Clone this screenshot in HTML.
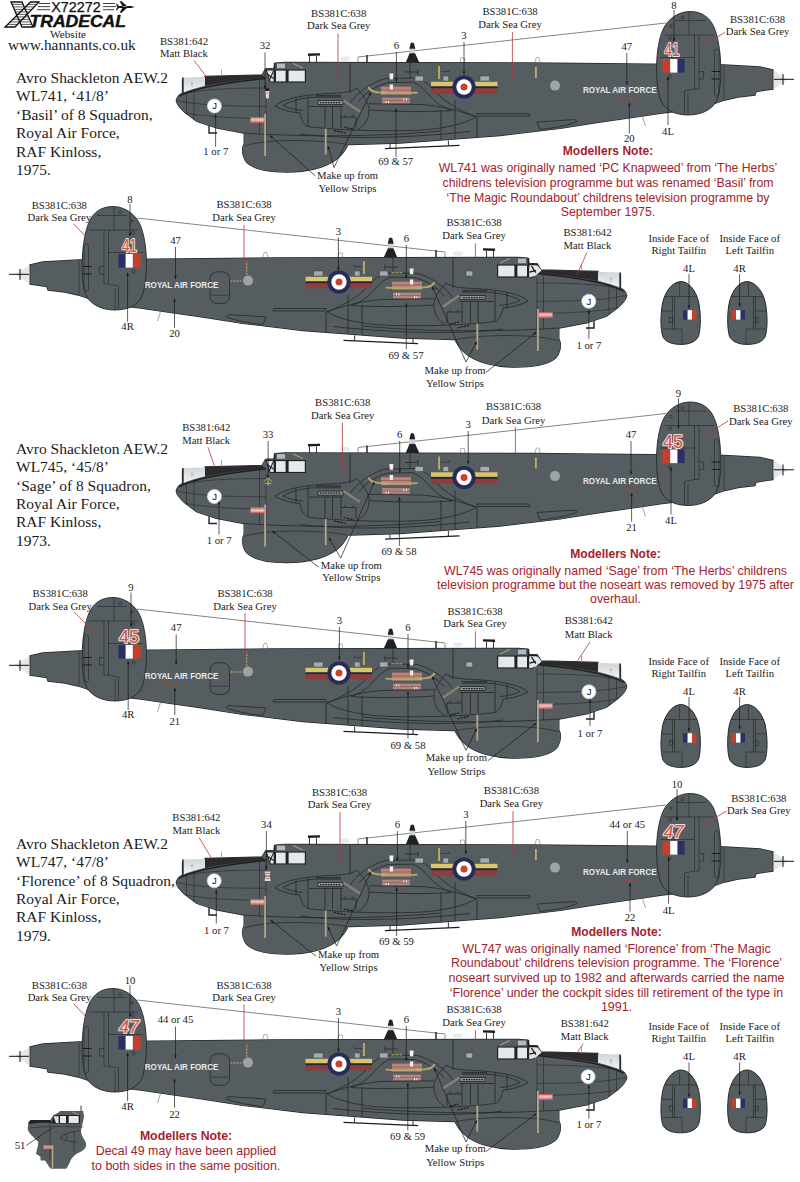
<!DOCTYPE html>
<html><head><meta charset="utf-8"><title>X72272</title>
<style>
html,body{margin:0;padding:0;background:#fff;}
svg{display:block;}
text{font-family:"Liberation Serif",serif;fill:#1a1a1a;}
.s{font-family:"Liberation Sans",sans-serif;}
</style></head><body>
<svg width="800" height="1182" viewBox="0 0 800 1182">
<rect width="800" height="1182" fill="#fff"/>
<defs>
<g id="ac">
  <!-- aerial wire -->
  <path d="M358,57 L666,23" stroke="#333" stroke-width="0.6" fill="none"/>
  <!-- top antennas -->
  <path d="M308,53.6 L320,53.2 L320,55.6 L308,56 Z" fill="#1c1c1c"/>
  <path d="M309.5,56 V62.5 M316.5,56 V62.5" stroke="#222" stroke-width="0.9"/>
  <path d="M358,57 V62.5" stroke="#b8bcc0" stroke-width="1.6"/>
  <path d="M367,55 V62.5" stroke="#1c1c1c" stroke-width="1.4"/>
  <path d="M460.6,62.5 V58 H464.6 V62.5" stroke="#9a9fa3" stroke-width="0.8" fill="none"/>
  <path d="M535,62.5 L536.3,57.5 H539 L540.3,62.5" stroke="#9a9fa3" stroke-width="0.8" fill="none"/>
  <!-- beacon -->
  <path d="M405.5,63 L409.7,53 H415 L419.5,63 Z" fill="#1f2123"/>
  <rect x="409.6" y="48.5" width="5.4" height="4.8" fill="#c9cdd0"/>
  <path d="M409.3,48.8 L410.6,43.6 Q412.3,41.5 414,43.6 L415.3,48.8 Z" fill="#1f2123"/>
  <!-- fuselage + radome : outline pass then fill pass -->
  <g stroke="#202427" stroke-width="1.3" stroke-linejoin="round" fill="#565d60">
    <path id="fus" d="M176.3,100.5 C177,97 179.5,94.5 182.5,93 L182.5,80 L205,78 L205,76.5 L262,75 L265.5,69 L274,68.5 L275,63.2 L285,62.5 L530,63 L650,64.2 L724,65 L760,67 L773,70 L773,89 L756,91.5 L755,95 L738,97 L725,100 L700,108.5 L662,113 L640,116.4 L600,122 L560,128.4 L500,135.5 L450,139.3 L400,143 L350,144.5 L244,133 L215,127.5 L197,121.5 L185,112.5 C180,108 176.5,104 176.3,100.5 Z"/>
    <path id="rad" d="M244.2,131 L244.2,143.5 C242,148 241.5,153 245,160 C249,167 262,171 275,171.7 C287,172.6 303,172 316,168.6 C330,165 340,158 345,150 L348.5,144 L348.5,131 Z"/>
  </g>
  <path d="M176.3,100.5 C177,97 179.5,94.5 182.5,93 L182.5,80 L205,78 L205,76.5 L262,75 L265.5,69 L274,68.5 L275,63.2 L285,62.5 L530,63 L650,64.2 L724,65 L760,67 L773,70 L773,89 L756,91.5 L755,95 L738,97 L725,100 L700,108.5 L662,113 L640,116.4 L600,122 L560,128.4 L500,135.5 L450,139.3 L400,143 L350,144.5 L244,133 L215,127.5 L197,121.5 L185,112.5 C180,108 176.5,104 176.3,100.5 Z" fill="#565d60"/>
  <path d="M244.2,131 L244.2,143.5 C242,148 241.5,153 245,160 C249,167 262,171 275,171.7 C287,172.6 303,172 316,168.6 C330,165 340,158 345,150 L348.5,144 L348.5,131 Z" fill="#565d60"/>
  <ellipse cx="345" cy="58.6" rx="5" ry="2.4" fill="#dfe7ee" opacity="0.8"/>
  <path d="M244.5,146 C262,139 320,139 347,144.5" fill="none" stroke="#23272a" stroke-width="0.7"/>
  <!-- skid under fuselage -->
  <path d="M385,148.6 L459.5,145.4" stroke="#1c1c1c" stroke-width="1.2"/>
  <path d="M390,144 V148.4 M448.4,140.5 V145.8" stroke="#1c1c1c" stroke-width="0.9"/>
  <!-- pitot -->
  <path d="M209,126 V133 H217" stroke="#222" stroke-width="1.4" fill="none"/>
  <!-- tail strut -->
  <path d="M642.5,116.5 L645.5,126" stroke="#7a8084" stroke-width="0.7"/>
  <!-- tail cone -->
  <path d="M773,70 L788,79.3 L773,89 Z" fill="#e4e6e8"/>
  <path d="M773,70 L773,89" stroke="#23272a" stroke-width="0.8"/>
  <path d="M774,79.3 L794,79.3 M783,74 L783,85" stroke="#111" stroke-width="1"/>
  <!-- tailplane stub lines -->
  <path d="M724,65.5 V100" stroke="#23272a" stroke-width="0.6" fill="none"/>
  <!-- fin -->
  <path d="M690,11.5 C680,11.5 671,17 665.5,25 C660,33 657.5,48 656.8,60 C656,75 657.5,92 661,101 C665,110 675,115 688,115 C701,115 711,110 716,102 C720.5,93 721.5,75 720.5,60 C719.5,45 717,33 713,25 C709,17.5 702,11.5 690,11.5 Z" fill="#565d60" stroke="#24282b" stroke-width="0.9"/>
  <g stroke="#23272a" stroke-width="0.6" fill="none">
    <path d="M665,35 H694.5 V89 L684.5,91 V114.5"/>
    <path d="M694.5,35 H699 V89 H694.5"/>
    <path d="M689,12 V35 M676,20.5 H706 M699,35 H714"/>
    <path d="M694.5,57.5 H660"/>
    <path d="M688,93 V114.8"/>
    <path d="M714.5,51 Q714.5,49 716.5,49 Q719,49 719,52 V94 Q719,96 716.8,96 Q714.5,96 714.5,94 Z"/>
    <path d="M699,71.5 H703.5 V79 H699"/>
    <path d="M711.5,71.5 H720 M711.5,79 H719.5" stroke="#111" stroke-width="0.9"/>
    <circle cx="670" cy="38" r="1.5"/>
    <circle cx="671" cy="26" r="1.3"/>
    <circle cx="682.5" cy="17.5" r="1.4"/>
    <circle cx="669.5" cy="76.5" r="1.6"/>
  </g>
  <!-- fin flash -->
  <rect x="662.4" y="59" width="7.8" height="13.6" fill="#c4402c"/>
  <rect x="670.2" y="59" width="7.4" height="13.6" fill="#ffffff"/>
  <rect x="677.6" y="59" width="7" height="13.6" fill="#2a2f66"/>
  <!-- nose glazing -->
  <path d="M182.5,77.4 L205,77 L205,85.8 C196,88 188,90.5 182.5,93 Z" fill="url(#glz)"/>
  <path d="M182.9,77.6 L182.9,93.6" stroke="#1c1e20" stroke-width="1.5"/>
  <path d="M192,82 V87 M190.7,83.5 H193.3" stroke="#8f969b" stroke-width="0.5"/>
  <!-- anti glare -->
  <path d="M205,76.5 L262,75 L266,78 C240,80 220,83 205,86 Z" fill="#2d2a2b"/>
  <path d="M179,96.5 C190,90 215,83.5 266,78.5" fill="none" stroke="#1d1f21" stroke-width="1.4"/>
  <path d="M221.5,69.5 V76.2" stroke="#8d9296" stroke-width="0.8"/>
  <!-- cockpit -->
  <path d="M265.5,69.5 H306 V82.5 H270 Z" fill="#1f2224"/>
  <path d="M267,70.6 L273.6,70.6 L273.6,81.4 L270.6,81.4 Z" fill="#dfe3e6"/>
  <path d="M267,74 L273.6,78.5 M273.6,70.6 L269,81" stroke="#1f2224" stroke-width="1.1"/>
  <rect x="276" y="70.6" width="9.6" height="10.8" fill="#e6e9eb"/>
  <rect x="288.6" y="70.6" width="16.2" height="10.8" fill="#e6e9eb"/>
  <rect x="277" y="63.6" width="8" height="4.6" fill="#b4babe"/>
  <path d="M274.6,63 V69" stroke="#1f2224" stroke-width="1.6"/>
  <path d="M293,63.5 L303,68" stroke="#b3a885" stroke-width="1"/>
  <!-- panel lines on nose -->
  <g stroke="#23272a" stroke-width="0.6" fill="none">
    <path d="M182,94 C200,89.5 230,88 266,88"/>
    <path d="M177,100.5 C200,105.5 230,106.3 266,106.3"/>
    <path d="M186,113 C205,116.5 230,118 266,118.5"/>
    <path d="M186.5,91.5 V113.5 M194,89 V119.5 M259.5,79 V134"/>
    <path d="M266,82.5 V134"/>
  </g>
  <!-- nacelles / wing -->
  <g stroke="#23272a" stroke-width="0.8" fill="none">
    <path d="M275,106 C284,98 305,94.5 335,93.2 C346,92.6 352,91.5 357,88"/>
    <path d="M275,106 C282,110 292,112.5 300,113 C301,119 303,124 308,126.5 C330,129.5 370,131.5 410,130.5 C440,130 465,124 476,116.8"/>
    <path d="M283,105.5 C290,100.5 305,97.5 318,97"/>
    <path d="M283,105.5 C289,108.5 296,110 303,110.5"/>
    <path d="M296,97.5 V112.5 M308,95 V126 M325,106.5 V127.5 M332.5,106.5 V127.5 M341,106.5 V128"/>
    <path d="M309,106.5 H343"/>
    <path d="M341,117 H356 V128.5 M345,117 V114.5 M353,117 V114.5"/>
    <path d="M350,103 C357,93 370,82.5 386,78.4 L416,78 C424,80 430,85 436,92 C444,101 456,109 476,116.8"/>
    <path d="M359,101 C366,92 377,85.5 388,82.6 L413,82.2 C420,85 425,90 430,96 C436,103 444,108 452,110.5"/>
    <path d="M357,88 C364,96 369,103 369,110 C369,120 364,126 358,129.5"/>
    <path d="M476,116.8 C462,111.5 440,105.5 420,104.5 L369,103.8"/>
    <path d="M369,110 C400,112 430,112 452,110.5"/>
    <path d="M300,134 C340,139 400,139 470,131.5"/>
    <path d="M244,133 C300,137 380,137 440,131"/>
    <path d="M441,110 V140 M455,100 V139"/>
    <path d="M410,63 V78 M405,72 H418 M418,69.5 V74.5"/>
    <path d="M477,113.5 H529 L530,116 H478"/>
    <path d="M477,113.5 V137"/>
    <path d="M537,122 L575,119.5 L577,121.5 C570,125 555,128 540,129.5 Z"/>
    <path d="M350,63 V93"/>
  </g>
  <!-- exhaust details -->
  <rect x="316" y="95.4" width="25" height="2.6" fill="#3a3f43"/>
  <path d="M316,95.4 H341" stroke="#15181a" stroke-width="0.8" stroke-dasharray="1.2 0.8"/>
  <rect x="318" y="100.6" width="25" height="4" fill="#8d9296" stroke="#15181a" stroke-width="0.7"/>
  <path d="M320,102.6 H341" stroke="#15181a" stroke-width="1.2" stroke-dasharray="1.6 1"/>
  <path d="M343.5,100.5 L360,111.5" stroke="#8b8170" stroke-width="2.2"/>
  <path d="M334,130.5 L346,133 M344,127 L354,129.5" stroke="#15181a" stroke-width="1.1" stroke-dasharray="2.4 0.8"/>
  <!-- yellow strips -->
  <rect x="264.2" y="114" width="1.8" height="42" fill="#b3a885"/>
  <rect x="324.8" y="128.6" width="1.8" height="26" fill="#b3a885"/>
  <!-- pink placard -->
  <rect x="250.5" y="117" width="14" height="5.6" fill="#e0a39d"/>
  <path d="M250.5,117.5 H264.5 M250.5,122.1 H264.5" stroke="#c9564f" stroke-width="0.9"/>
  <path d="M252,119.8 H263" stroke="#f4d6d3" stroke-width="1.2" stroke-dasharray="1.4 0.6"/>
  <!-- small windows -->
  <g fill="#a4aaae" stroke="#3a3f43" stroke-width="0.5">
    <rect x="415" y="76" width="8.4" height="5"/>
    <rect x="443" y="76" width="5.6" height="5"/>
    <rect x="480" y="76" width="9.4" height="5"/>
  </g>
  <!-- yellow markers -->
  <rect x="438.2" y="66" width="1.8" height="13" fill="#c4ae55"/>
  <path d="M441,71.5 H449 V69.5" stroke="#23272a" stroke-width="0.6" fill="none"/>
  <!-- sqn bars + roundel -->
  <rect x="431" y="81.8" width="66.5" height="4.6" fill="#d9c66a"/>
  <rect x="431" y="86.4" width="66.5" height="2" fill="#26263f"/>
  <rect x="431" y="88.4" width="66.5" height="4.8" fill="#933a3a"/>
  <circle cx="464" cy="87" r="11.6" fill="#272b57"/>
  <circle cx="464" cy="87" r="7.7" fill="#ffffff"/>
  <circle cx="464" cy="87" r="3.5" fill="#c9432b"/>
  <!-- grey disc -->
  <circle cx="555" cy="85.6" r="5" fill="#9ea3a6"/>
  <!-- nacelle art -->
  <rect x="381" y="86.4" width="30" height="8.2" fill="#b8837b"/>
  <rect x="382" y="97.6" width="28" height="5.8" fill="#ad8780"/>
  <path d="M380.5,86.2 H411.5 M380.5,90 H411.5 M381.5,100.6 H410 M381.5,103.6 H410" stroke="#7d4640" stroke-width="0.5"/>
  <path d="M383,91.5 V94 M385.5,91.5 V94 M404,98.4 V100.4 M406.5,98.4 V100.4 M386,101 V103.2 M388.5,101 V103.2" stroke="#fbecea" stroke-width="1"/>
  <path d="M368.4,87 C370,90.5 373,92 378,92.4 C392,93.4 406,93.2 417.5,92.6" stroke="#b5a866" stroke-width="1.9" fill="none"/>
  <path d="M389.4,73.6 L393.4,73.6 L393,79.2 L389.8,79.2 Z" fill="#f0f1f2"/>
  <path d="M389.6,84.4 L393.2,84.4 L392.8,89.6 L390,89.6 Z" fill="#f6ecea"/>
</g>

<g id="sfin">
  <path d="M681,281.6 C674,281.6 666,289 662.8,302 C660.2,315 660.4,330 663,337 C666,342.5 673,344.4 681,344.4 C689,344.4 696,342 698.6,336 C701,328 700.8,312 698.6,302 C695.5,289 688,281.6 681,281.6 Z" fill="#565d60" stroke="#24282b" stroke-width="1"/>
  <g stroke="#23272a" stroke-width="0.6" fill="none">
    <path d="M665,296.5 H674.6 V329 H682 V344"/>
    <path d="M672.6,296.5 V329"/>
    <path d="M679.6,283 V296.5 H674.6 M679.6,296.5 H697"/>
    <path d="M662,311 H672.6 M663,329 H674.6"/>
    <path d="M669.6,317.6 H672.6 V322.4 H669.6 Z"/>
  </g>
  <rect x="683" y="310.2" width="4.6" height="9.4" fill="#2a2f66"/>
  <rect x="687.6" y="310.2" width="4.4" height="9.4" fill="#ffffff"/>
  <rect x="692" y="310.2" width="4.4" height="9.4" fill="#c4402c"/>
</g>
<linearGradient id="glz" x1="0" y1="0" x2="0" y2="1"><stop offset="0" stop-color="#cfd5d9"/><stop offset="1" stop-color="#f2f4f5"/></linearGradient></defs>
<use href="#ac" transform="translate(0,0)"/>
<rect x="535" y="67" width="1.8" height="11" fill="#c4ae55"/>
<use href="#ac" transform="translate(0,390.5)"/>
<rect x="535" y="457.5" width="1.8" height="11" fill="#c4ae55"/>
<use href="#ac" transform="translate(0,782)"/>
<rect x="535" y="849" width="1.8" height="11" fill="#c4ae55"/>
<use href="#ac" transform="translate(803,195) scale(-1,1)"/>
<rect x="210" y="271.8" width="19.5" height="31.6" rx="7" ry="7" fill="none" stroke="#23272a" stroke-width="0.8"/>
<path d="M211,295.2 H228.5" stroke="#23272a" stroke-width="0.6"/>
<rect x="466" y="271" width="6.8" height="5" fill="#a4aaae" stroke="#3a3f43" stroke-width="0.5"/>
<path d="M246.8,275 V261.5 M241.6,281 H230.5" stroke="#c4ae55" stroke-width="1" stroke-dasharray="2.2 1" fill="none"/>
<path d="M391.5,272.8 H402" stroke="#c4ae55" stroke-width="1" stroke-dasharray="3 1" fill="none"/>
<path d="M529.4,265.6 L537.4,265.6 L541.6,270.6 L535.6,275.4 L529.4,277.2 Z" fill="#e3e6e8"/>
<path d="M528.2,264.4 H538 M531.4,265.8 L535.8,272.6 M529.6,272 L536,270.6" stroke="#1f2224" stroke-width="1.3" fill="none"/>
<use href="#ac" transform="translate(803,586) scale(-1,1)"/>
<rect x="210" y="662.8" width="19.5" height="31.6" rx="7" ry="7" fill="none" stroke="#23272a" stroke-width="0.8"/>
<path d="M211,686.2 H228.5" stroke="#23272a" stroke-width="0.6"/>
<rect x="466" y="662" width="6.8" height="5" fill="#a4aaae" stroke="#3a3f43" stroke-width="0.5"/>
<path d="M246.8,666 V652.5 M241.6,672 H230.5" stroke="#c4ae55" stroke-width="1" stroke-dasharray="2.2 1" fill="none"/>
<path d="M391.5,663.8 H402" stroke="#c4ae55" stroke-width="1" stroke-dasharray="3 1" fill="none"/>
<path d="M529.4,656.6 L537.4,656.6 L541.6,661.6 L535.6,666.4 L529.4,668.2 Z" fill="#e3e6e8"/>
<path d="M528.2,655.4 H538 M531.4,656.8 L535.8,663.6 M529.6,663 L536,661.6" stroke="#1f2224" stroke-width="1.3" fill="none"/>
<use href="#ac" transform="translate(803,977) scale(-1,1)"/>
<rect x="210" y="1053.8" width="19.5" height="31.6" rx="7" ry="7" fill="none" stroke="#23272a" stroke-width="0.8"/>
<path d="M211,1077.2 H228.5" stroke="#23272a" stroke-width="0.6"/>
<rect x="466" y="1053" width="6.8" height="5" fill="#a4aaae" stroke="#3a3f43" stroke-width="0.5"/>
<path d="M246.8,1057 V1043.5 M241.6,1063 H230.5" stroke="#c4ae55" stroke-width="1" stroke-dasharray="2.2 1" fill="none"/>
<path d="M391.5,1054.8 H402" stroke="#c4ae55" stroke-width="1" stroke-dasharray="3 1" fill="none"/>
<path d="M529.4,1047.6 L537.4,1047.6 L541.6,1052.6 L535.6,1057.4 L529.4,1059.2 Z" fill="#e3e6e8"/>
<path d="M528.2,1046.4 H538 M531.4,1047.8 L535.8,1054.6 M529.6,1054 L536,1052.6" stroke="#1f2224" stroke-width="1.3" fill="none"/>
<g stroke="#111" stroke-width="0.8"><path d="M39,3.5 H50 M38,6.6 H50 M37,9.7 H50 M103,3.5 H115 M103,6.6 H116 M103,9.7 H114"/></g>
<text x="51.3" y="12.3" font-size="13.9" class="s" style="fill:#111" textLength="49.4" lengthAdjust="spacingAndGlyphs" stroke="#111" stroke-width="0.25">X72272</text>
<path d="M116.4,7 L120,6 L131,6 L134.8,7 L131,8 L120,8 Z M127.5,6.5 L121.6,1.2 L119.6,1.2 L122.6,6.5 Z M127.5,7.5 L121.6,12.8 L119.6,12.8 L122.6,7.5 Z M119.2,6.4 L117,3.8 L116,3.8 L117,6.4 Z M119.2,7.6 L117,10.2 L116,10.2 L117,7.6 Z" fill="#111"/>
<clipPath id="xclip"><path d="M11,2 L22,2 L33,27 L22,27 Z M30.5,2 L39,2 L15,27 L5,27 Z"/></clipPath><path d="M11,2 L22,2 L33,27 L22,27 Z M30.5,2 L39,2 L15,27 L5,27 Z" fill="#fff" stroke="#111" stroke-width="1.3" stroke-linejoin="miter"/><g clip-path="url(#xclip)"><path d="M4,4.4 H40 M4,6.9 H40 M4,9.4 H40 M4,11.9 H40 M4,14.4 H40 M4,16.9 H40 M4,19.4 H40 M4,21.9 H40 M4,24.4 H40" stroke="#111" stroke-width="0.7"/></g>
<text x="29.5" y="26.6" font-size="15.9" class="s" style="fill:#111" font-weight="bold" font-style="italic" textLength="96.5" lengthAdjust="spacingAndGlyphs" stroke="#111" stroke-width="0.4">TRADECAL</text>
<text x="68" y="38" font-size="11.3" text-anchor="middle">Website</text>
<text x="8" y="50" font-size="15.3">www.hannants.co.uk</text>
<text x="16" y="83.0" font-size="15.5">Avro Shackleton AEW.2</text>
<text x="16" y="101.4" font-size="15.5">WL741, ‘41/8’</text>
<text x="16" y="119.8" font-size="15.5">‘Basil’ of 8 Squadron,</text>
<text x="16" y="138.2" font-size="15.5">Royal Air Force,</text>
<text x="16" y="156.6" font-size="15.5">RAF Kinloss,</text>
<text x="16" y="175.0" font-size="15.5">1975.</text>
<text x="583" y="93.2" font-size="9.4" class="s" style="fill:#e6e8ea" font-weight="bold" textLength="73.6" lengthAdjust="spacingAndGlyphs">ROYAL AIR FORCE</text>
<path d="M620,98.3 h7 M629,98.7 h6" stroke="#b9403a" stroke-width="1" opacity="0.75"/>
<circle cx="214.4" cy="106" r="7" fill="#fff" stroke="#c9d6df" stroke-width="0.8"/><text x="214.6" y="109.3" font-size="9.6" text-anchor="middle" class="s" style="fill:#111">J</text>
<text x="672" y="56" font-size="18.5" text-anchor="middle" class="s" style="fill:#cc564a" stroke="#f3ddd8" stroke-width="2.2" paint-order="stroke" stroke-linejoin="round" textLength="15" lengthAdjust="spacingAndGlyphs">41</text>
<text x="184" y="45" font-size="10.7" text-anchor="middle">BS381:642</text>
<text x="184" y="56.7" font-size="10.7" text-anchor="middle">Matt Black</text>
<path d="M194.0,60.5 L206.5,77.0" stroke="#b0393a" stroke-width="0.8" fill="none"/>
<text x="265" y="49" font-size="10.7" text-anchor="middle">32</text>
<path d="M265.0,52.3 L265.0,89.0" stroke="#1a1a1a" stroke-width="0.7" fill="none"/><path d="M265.0,89.0 L263.7,85.8 L266.3,85.8 Z" fill="#1a1a1a"/>
<rect x="265.2" y="88.4" width="4" height="2.4" fill="#1c1c1c"/><path d="M265.4,91 H269.4 L268.8,98 Q267.4,99.6 266,98 Z" fill="#eadbd8"/><path d="M265.6,93 H269.2" stroke="#c98078" stroke-width="1"/>
<text x="338.7" y="16.9" font-size="10.7" text-anchor="middle">BS381C:638</text>
<text x="338.7" y="28.7" font-size="10.7" text-anchor="middle">Dark Sea Grey</text>
<path d="M338.0,33.5 L338.0,82.5" stroke="#b0393a" stroke-width="0.8" fill="none"/>
<text x="396.4" y="49" font-size="10.7" text-anchor="middle">6</text>
<path d="M396.4,52.0 L396.4,82.0" stroke="#1a1a1a" stroke-width="0.7" fill="none"/><path d="M396.4,82.0 L395.1,78.8 L397.7,78.8 Z" fill="#1a1a1a"/>
<text x="215.8" y="154.6" font-size="10.7" text-anchor="middle">1 or 7</text>
<path d="M215.6,146.8 L215.6,114.0" stroke="#1a1a1a" stroke-width="0.7" fill="none"/><path d="M215.6,114.0 L216.9,117.2 L214.3,117.2 Z" fill="#1a1a1a"/>
<text x="395.7" y="165.4" font-size="10.7" text-anchor="middle">69 &amp; 57</text>
<path d="M396.0,157.0 L396.0,108.5" stroke="#1a1a1a" stroke-width="0.7" fill="none"/><path d="M396.0,108.5 L397.3,111.7 L394.7,111.7 Z" fill="#1a1a1a"/>
<text x="347.5" y="178.9" font-size="10.7" text-anchor="middle">Make up from</text>
<text x="347.5" y="191.7" font-size="10.7" text-anchor="middle">Yellow Strips</text>
<path d="M315.4,176.0 L270.0,135.5" stroke="#1a1a1a" stroke-width="0.7" fill="none"/><path d="M270.0,135.5 L273.3,136.7 L271.5,138.6 Z" fill="#1a1a1a"/>
<path d="M334.0,167.5 L328.0,146.0" stroke="#1a1a1a" stroke-width="0.7" fill="none"/><path d="M328.0,146.0 L330.1,148.7 L327.6,149.4 Z" fill="#1a1a1a"/>
<path d="M334.0,167.5 L371.0,92.0" stroke="#1a1a1a" stroke-width="0.7" fill="none"/><path d="M371.0,92.0 L370.8,95.4 L368.4,94.3 Z" fill="#1a1a1a"/>
<text x="510" y="15.2" font-size="10.7" text-anchor="middle">BS381C:638</text>
<text x="510" y="27.7" font-size="10.7" text-anchor="middle">Dark Sea Grey</text>
<path d="M512.4,32.0 L512.4,77.6" stroke="#b0393a" stroke-width="0.8" fill="none"/>
<text x="464" y="38.8" font-size="10.7" text-anchor="middle">3</text>
<path d="M464.0,42.0 L464.0,74.5" stroke="#1a1a1a" stroke-width="0.7" fill="none"/><path d="M464.0,74.5 L462.7,71.3 L465.3,71.3 Z" fill="#1a1a1a"/>
<text x="626.8" y="49.8" font-size="10.7" text-anchor="middle">47</text>
<path d="M626.8,53.0 L626.8,85.0" stroke="#1a1a1a" stroke-width="0.7" fill="none"/><path d="M626.8,85.0 L625.5,81.8 L628.1,81.8 Z" fill="#1a1a1a"/>
<text x="629.3" y="142.2" font-size="10.7" text-anchor="middle">20</text>
<path d="M629.3,133.3 L629.3,103.0" stroke="#1a1a1a" stroke-width="0.7" fill="none"/><path d="M629.3,103.0 L630.6,106.2 L628.0,106.2 Z" fill="#1a1a1a"/>
<text x="674" y="9" font-size="10.7" text-anchor="middle">8</text>
<path d="M674.0,10.0 L674.0,41.5" stroke="#1a1a1a" stroke-width="0.7" fill="none"/><path d="M674.0,41.5 L672.7,38.3 L675.3,38.3 Z" fill="#1a1a1a"/>
<text x="757.6" y="22.5" font-size="10.7" text-anchor="middle">BS381C:638</text>
<text x="757.6" y="35.4" font-size="10.7" text-anchor="middle">Dark Sea Grey</text>
<path d="M725.0,32.4 L698.6,48.0" stroke="#b0393a" stroke-width="0.8" fill="none"/>
<text x="668" y="135" font-size="10.7" text-anchor="middle">4L</text>
<path d="M668.0,125.0 L668.0,77.0" stroke="#1a1a1a" stroke-width="0.7" fill="none"/><path d="M668.0,77.0 L669.3,80.2 L666.7,80.2 Z" fill="#1a1a1a"/>
<text x="608" y="155" font-size="12.05" text-anchor="middle" class="s" style="fill:#a3222c" font-weight="bold">Modellers Note:</text>
<text x="608" y="172.3" font-size="12.3" text-anchor="middle" class="s" style="fill:#a3222c">WL741 was originally named ‘PC Knapweed’ from ‘The Herbs’</text>
<text x="608" y="187.0" font-size="12.3" text-anchor="middle" class="s" style="fill:#a3222c">childrens television programme but was renamed ‘Basil’ from</text>
<text x="608" y="201.6" font-size="12.3" text-anchor="middle" class="s" style="fill:#a3222c">‘The Magic Roundabout’ childrens television programme by</text>
<text x="608" y="216.2" font-size="12.3" text-anchor="middle" class="s" style="fill:#a3222c">September 1975.</text>
<text x="144.8" y="288.3" font-size="9.4" class="s" style="fill:#e6e8ea" font-weight="bold" textLength="73.6" lengthAdjust="spacingAndGlyphs">ROYAL AIR FORCE</text>
<path d="M163,293.4 h7 M172,293.79999999999995 h6" stroke="#b9403a" stroke-width="1" opacity="0.75"/>
<circle cx="588.8" cy="301.3" r="7" fill="#fff" stroke="#c9d6df" stroke-width="0.8"/><text x="589.0" y="304.6" font-size="9.6" text-anchor="middle" class="s" style="fill:#111">J</text>
<text x="129.5" y="251.5" font-size="18.5" text-anchor="middle" class="s" style="fill:#cc564a" stroke="#f3ddd8" stroke-width="2.2" paint-order="stroke" stroke-linejoin="round" textLength="15" lengthAdjust="spacingAndGlyphs">41</text>
<text x="59.3" y="209.2" font-size="10.7" text-anchor="middle">BS381C:638</text>
<text x="59.3" y="221.4" font-size="10.7" text-anchor="middle">Dark Sea Grey</text>
<path d="M73.6,223.7 L96.2,248.0" stroke="#b0393a" stroke-width="0.8" fill="none"/>
<text x="130" y="202.8" font-size="10.7" text-anchor="middle">8</text>
<path d="M130.0,204.0 L130.0,236.0" stroke="#1a1a1a" stroke-width="0.7" fill="none"/><path d="M130.0,236.0 L128.7,232.8 L131.3,232.8 Z" fill="#1a1a1a"/>
<text x="127.6" y="330" font-size="10.7" text-anchor="middle">4R</text>
<path d="M127.6,321.6 L127.6,272.5" stroke="#1a1a1a" stroke-width="0.7" fill="none"/><path d="M127.6,272.5 L128.9,275.7 L126.3,275.7 Z" fill="#1a1a1a"/>
<text x="175.5" y="244" font-size="10.7" text-anchor="middle">47</text>
<path d="M175.5,247.0 L175.5,279.0" stroke="#1a1a1a" stroke-width="0.7" fill="none"/><path d="M175.5,279.0 L174.2,275.8 L176.8,275.8 Z" fill="#1a1a1a"/>
<text x="174.5" y="336.8" font-size="10.7" text-anchor="middle">20</text>
<path d="M174.5,327.7 L174.5,298.5" stroke="#1a1a1a" stroke-width="0.7" fill="none"/><path d="M174.5,298.5 L175.8,301.7 L173.2,301.7 Z" fill="#1a1a1a"/>
<text x="244" y="208.3" font-size="10.7" text-anchor="middle">BS381C:638</text>
<text x="244" y="221" font-size="10.7" text-anchor="middle">Dark Sea Grey</text>
<path d="M244.0,225.0 L244.0,266.0" stroke="#b0393a" stroke-width="0.8" fill="none"/>
<text x="338.4" y="234.9" font-size="10.7" text-anchor="middle">3</text>
<path d="M338.4,237.5 L338.4,270.5" stroke="#1a1a1a" stroke-width="0.7" fill="none"/><path d="M338.4,270.5 L337.1,267.3 L339.7,267.3 Z" fill="#1a1a1a"/>
<text x="406.3" y="242.3" font-size="10.7" text-anchor="middle">6</text>
<path d="M406.3,245.0 L406.3,278.4" stroke="#1a1a1a" stroke-width="0.7" fill="none"/><path d="M406.3,278.4 L405.0,275.2 L407.6,275.2 Z" fill="#1a1a1a"/>
<text x="474" y="226.1" font-size="10.7" text-anchor="middle">BS381C:638</text>
<text x="474" y="239" font-size="10.7" text-anchor="middle">Dark Sea Grey</text>
<path d="M475.4,243.3 L475.4,269.5" stroke="#b0393a" stroke-width="0.8" fill="none"/>
<text x="406" y="358.7" font-size="10.7" text-anchor="middle">69 &amp; 57</text>
<path d="M406.3,349.3 L406.3,303.0" stroke="#1a1a1a" stroke-width="0.7" fill="none"/><path d="M406.3,303.0 L407.6,306.2 L405.0,306.2 Z" fill="#1a1a1a"/>
<text x="455" y="374" font-size="10.7" text-anchor="middle">Make up from</text>
<text x="455" y="386.8" font-size="10.7" text-anchor="middle">Yellow Strips</text>
<path d="M466.0,362.0 L432.2,286.5" stroke="#1a1a1a" stroke-width="0.7" fill="none"/><path d="M432.2,286.5 L434.7,288.9 L432.3,290.0 Z" fill="#1a1a1a"/>
<path d="M466.0,362.0 L476.8,341.5" stroke="#1a1a1a" stroke-width="0.7" fill="none"/><path d="M476.8,341.5 L476.5,344.9 L474.2,343.7 Z" fill="#1a1a1a"/>
<path d="M486.0,372.5 L536.5,332.0" stroke="#1a1a1a" stroke-width="0.7" fill="none"/><path d="M536.5,332.0 L534.8,335.0 L533.2,333.0 Z" fill="#1a1a1a"/>
<text x="587.5" y="235.7" font-size="10.7" text-anchor="middle">BS381:642</text>
<text x="587.5" y="248.9" font-size="10.7" text-anchor="middle">Matt Black</text>
<path d="M587.0,252.6 L576.9,274.4" stroke="#b0393a" stroke-width="0.8" fill="none"/>
<text x="588.9" y="349.4" font-size="10.7" text-anchor="middle">1 or 7</text>
<path d="M588.9,339.0 L588.9,310.0" stroke="#1a1a1a" stroke-width="0.7" fill="none"/><path d="M588.9,310.0 L590.2,313.2 L587.6,313.2 Z" fill="#1a1a1a"/>
<text x="678.7" y="241.6" font-size="10.7" text-anchor="middle">Inside Face of</text>
<text x="678.7" y="254" font-size="10.7" text-anchor="middle">Right Tailfin</text>
<text x="749.7" y="241.6" font-size="10.7" text-anchor="middle">Inside Face of</text>
<text x="749.7" y="254" font-size="10.7" text-anchor="middle">Left Tailfin</text>
<text x="689" y="271.6" font-size="10.7" text-anchor="middle">4L</text>
<text x="739.6" y="271.6" font-size="10.7" text-anchor="middle">4R</text>
<g transform="translate(0,0)"><use href="#sfin"/><use href="#sfin" transform="translate(1428,0) scale(-1,1)"/></g>
<path d="M689.0,274.0 L689.0,308.5" stroke="#1a1a1a" stroke-width="0.7" fill="none"/><path d="M689.0,308.5 L687.7,305.3 L690.3,305.3 Z" fill="#1a1a1a"/>
<path d="M739.6,274.0 L739.6,306.5" stroke="#1a1a1a" stroke-width="0.7" fill="none"/><path d="M739.6,306.5 L738.3,303.3 L740.9,303.3 Z" fill="#1a1a1a"/>
<text x="16" y="453.8" font-size="15.5">Avro Shackleton AEW.2</text>
<text x="16" y="472.2" font-size="15.5">WL745, ‘45/8’</text>
<text x="16" y="490.6" font-size="15.5">‘Sage’ of 8 Squadron,</text>
<text x="16" y="509.0" font-size="15.5">Royal Air Force,</text>
<text x="16" y="527.4" font-size="15.5">RAF Kinloss,</text>
<text x="16" y="545.8" font-size="15.5">1973.</text>
<text x="583" y="483.7" font-size="9.4" class="s" style="fill:#e6e8ea" font-weight="bold" textLength="73.6" lengthAdjust="spacingAndGlyphs">ROYAL AIR FORCE</text>
<path d="M622,488.8 h7 M631,489.2 h6" stroke="#b9403a" stroke-width="1" opacity="0.75"/>
<circle cx="214.4" cy="496.5" r="7" fill="#fff" stroke="#c9d6df" stroke-width="0.8"/><text x="214.6" y="499.8" font-size="9.6" text-anchor="middle" class="s" style="fill:#111">J</text>
<text x="673" y="447.6" font-size="18.5" text-anchor="middle" class="s" style="fill:#cc564a" stroke="#f3ddd8" stroke-width="2.2" paint-order="stroke" stroke-linejoin="round" textLength="20" lengthAdjust="spacingAndGlyphs">45</text>
<text x="206.2" y="430.5" font-size="10.7" text-anchor="middle">BS381:642</text>
<text x="206.2" y="443.6" font-size="10.7" text-anchor="middle">Matt Black</text>
<path d="M208.0,447.4 L214.8,467.0" stroke="#b0393a" stroke-width="0.8" fill="none"/>
<text x="268.1" y="438" font-size="10.7" text-anchor="middle">33</text>
<path d="M268.1,441.0 L268.1,478.5" stroke="#1a1a1a" stroke-width="0.7" fill="none"/><path d="M268.1,478.5 L266.8,475.3 L269.4,475.3 Z" fill="#1a1a1a"/>
<path d="M264,481.6 L268,477.6 L272,481.6 M265,483.4 H271.4 M268,479 V485.6" stroke="#c8b04e" stroke-width="1" fill="none"/>
<text x="342.7" y="405.9" font-size="10.7" text-anchor="middle">BS381C:638</text>
<text x="342.7" y="418.7" font-size="10.7" text-anchor="middle">Dark Sea Grey</text>
<path d="M342.4,422.7 L342.4,471.0" stroke="#b0393a" stroke-width="0.8" fill="none"/>
<text x="399.7" y="438" font-size="10.7" text-anchor="middle">6</text>
<path d="M399.7,441.0 L399.7,472.7" stroke="#1a1a1a" stroke-width="0.7" fill="none"/><path d="M399.7,472.7 L398.4,469.5 L401.0,469.5 Z" fill="#1a1a1a"/>
<text x="219.2" y="543.6" font-size="10.7" text-anchor="middle">1 or 7</text>
<path d="M219.0,534.4 L219.0,501.4" stroke="#1a1a1a" stroke-width="0.7" fill="none"/><path d="M219.0,501.4 L220.3,504.6 L217.7,504.6 Z" fill="#1a1a1a"/>
<text x="399" y="555.4" font-size="10.7" text-anchor="middle">69 &amp; 58</text>
<path d="M399.4,546.0 L399.4,497.3" stroke="#1a1a1a" stroke-width="0.7" fill="none"/><path d="M399.4,497.3 L400.7,500.5 L398.1,500.5 Z" fill="#1a1a1a"/>
<text x="351.3" y="568.9" font-size="10.7" text-anchor="middle">Make up from</text>
<text x="351.3" y="580.9" font-size="10.7" text-anchor="middle">Yellow Strips</text>
<path d="M318.7,567.2 L272.2,531.0" stroke="#1a1a1a" stroke-width="0.7" fill="none"/><path d="M272.2,531.0 L275.5,531.9 L273.9,534.0 Z" fill="#1a1a1a"/>
<path d="M340.7,558.0 L328.9,537.8" stroke="#1a1a1a" stroke-width="0.7" fill="none"/><path d="M328.9,537.8 L331.6,539.9 L329.4,541.2 Z" fill="#1a1a1a"/>
<path d="M340.7,558.0 L374.4,481.8" stroke="#1a1a1a" stroke-width="0.7" fill="none"/><path d="M374.4,481.8 L374.3,485.3 L371.9,484.2 Z" fill="#1a1a1a"/>
<text x="513.6" y="410.2" font-size="10.7" text-anchor="middle">BS381C:638</text>
<text x="513.6" y="423.5" font-size="10.7" text-anchor="middle">Dark Sea Grey</text>
<path d="M515.4,427.0 L515.4,467.6" stroke="#b0393a" stroke-width="0.8" fill="none"/>
<text x="468.2" y="427.8" font-size="10.7" text-anchor="middle">3</text>
<path d="M468.2,431.0 L468.2,464.0" stroke="#1a1a1a" stroke-width="0.7" fill="none"/><path d="M468.2,464.0 L466.9,460.8 L469.5,460.8 Z" fill="#1a1a1a"/>
<text x="631" y="438.3" font-size="10.7" text-anchor="middle">47</text>
<path d="M631.0,441.0 L631.0,474.6" stroke="#1a1a1a" stroke-width="0.7" fill="none"/><path d="M631.0,474.6 L629.7,471.4 L632.3,471.4 Z" fill="#1a1a1a"/>
<text x="631.6" y="531.3" font-size="10.7" text-anchor="middle">21</text>
<path d="M631.6,521.6 L631.6,493.0" stroke="#1a1a1a" stroke-width="0.7" fill="none"/><path d="M631.6,493.0 L632.9,496.2 L630.3,496.2 Z" fill="#1a1a1a"/>
<text x="678.5" y="397" font-size="10.7" text-anchor="middle">9</text>
<path d="M678.5,398.5 L678.5,428.6" stroke="#1a1a1a" stroke-width="0.7" fill="none"/><path d="M678.5,428.6 L677.2,425.4 L679.8,425.4 Z" fill="#1a1a1a"/>
<text x="760.8" y="412" font-size="10.7" text-anchor="middle">BS381C:638</text>
<text x="760.8" y="424.5" font-size="10.7" text-anchor="middle">Dark Sea Grey</text>
<path d="M728.0,421.0 L705.5,435.0" stroke="#b0393a" stroke-width="0.8" fill="none"/>
<text x="671" y="523.5" font-size="10.7" text-anchor="middle">4L</text>
<path d="M671.0,514.5 L671.0,467.4" stroke="#1a1a1a" stroke-width="0.7" fill="none"/><path d="M671.0,467.4 L672.3,470.6 L669.7,470.6 Z" fill="#1a1a1a"/>
<text x="615.5" y="558" font-size="12.05" text-anchor="middle" class="s" style="fill:#a3222c" font-weight="bold">Modellers Note:</text>
<text x="615.5" y="574.6" font-size="12.38" text-anchor="middle" class="s" style="fill:#a3222c">WL745 was originally named ‘Sage’ from ‘The Herbs’ childrens</text>
<text x="615.5" y="589.0" font-size="12.38" text-anchor="middle" class="s" style="fill:#a3222c">television programme but the noseart was removed by 1975 after</text>
<text x="615.5" y="603.4" font-size="12.38" text-anchor="middle" class="s" style="fill:#a3222c">overhaul.</text>
<text x="144.8" y="679.3" font-size="9.4" class="s" style="fill:#e6e8ea" font-weight="bold" textLength="73.6" lengthAdjust="spacingAndGlyphs">ROYAL AIR FORCE</text>
<path d="M163,684.4 h7 M172,684.8 h6" stroke="#b9403a" stroke-width="1" opacity="0.75"/>
<circle cx="588.9" cy="691.8" r="7" fill="#fff" stroke="#c9d6df" stroke-width="0.8"/><text x="589.1" y="695.0999999999999" font-size="9.6" text-anchor="middle" class="s" style="fill:#111">J</text>
<text x="129" y="643.4" font-size="18.5" text-anchor="middle" class="s" style="fill:#cc564a" stroke="#f3ddd8" stroke-width="2.2" paint-order="stroke" stroke-linejoin="round" textLength="20" lengthAdjust="spacingAndGlyphs">45</text>
<text x="60.2" y="596.9" font-size="10.7" text-anchor="middle">BS381C:638</text>
<text x="60.2" y="609.7" font-size="10.7" text-anchor="middle">Dark Sea Grey</text>
<path d="M74.2,612.0 L97.2,635.7" stroke="#b0393a" stroke-width="0.8" fill="none"/>
<text x="131" y="590.8" font-size="10.7" text-anchor="middle">9</text>
<path d="M131.0,592.5 L131.0,626.6" stroke="#1a1a1a" stroke-width="0.7" fill="none"/><path d="M131.0,626.6 L129.7,623.4 L132.3,623.4 Z" fill="#1a1a1a"/>
<text x="128.2" y="718.4" font-size="10.7" text-anchor="middle">4R</text>
<path d="M128.2,710.0 L128.2,661.0" stroke="#1a1a1a" stroke-width="0.7" fill="none"/><path d="M128.2,661.0 L129.5,664.2 L126.9,664.2 Z" fill="#1a1a1a"/>
<text x="176.2" y="631.3" font-size="10.7" text-anchor="middle">47</text>
<path d="M176.2,634.5 L176.2,664.6" stroke="#1a1a1a" stroke-width="0.7" fill="none"/><path d="M176.2,664.6 L174.9,661.4 L177.5,661.4 Z" fill="#1a1a1a"/>
<text x="174.8" y="725" font-size="10.7" text-anchor="middle">21</text>
<path d="M174.8,715.0 L174.8,688.0" stroke="#1a1a1a" stroke-width="0.7" fill="none"/><path d="M174.8,688.0 L176.1,691.2 L173.5,691.2 Z" fill="#1a1a1a"/>
<text x="245" y="596.9" font-size="10.7" text-anchor="middle">BS381C:638</text>
<text x="245" y="609.7" font-size="10.7" text-anchor="middle">Dark Sea Grey</text>
<path d="M245.0,613.0 L245.0,653.0" stroke="#b0393a" stroke-width="0.8" fill="none"/>
<text x="339.4" y="623.9" font-size="10.7" text-anchor="middle">3</text>
<path d="M339.4,627.0 L339.4,660.0" stroke="#1a1a1a" stroke-width="0.7" fill="none"/><path d="M339.4,660.0 L338.1,656.8 L340.7,656.8 Z" fill="#1a1a1a"/>
<text x="408" y="631.3" font-size="10.7" text-anchor="middle">6</text>
<path d="M408.0,634.0 L408.0,668.4" stroke="#1a1a1a" stroke-width="0.7" fill="none"/><path d="M408.0,668.4 L406.7,665.2 L409.3,665.2 Z" fill="#1a1a1a"/>
<text x="475" y="614.8" font-size="10.7" text-anchor="middle">BS381C:638</text>
<text x="475" y="627.2" font-size="10.7" text-anchor="middle">Dark Sea Grey</text>
<path d="M475.4,631.3 L475.4,659.5" stroke="#b0393a" stroke-width="0.8" fill="none"/>
<text x="408" y="748.7" font-size="10.7" text-anchor="middle">69 &amp; 58</text>
<path d="M408.0,738.6 L408.0,691.4" stroke="#1a1a1a" stroke-width="0.7" fill="none"/><path d="M408.0,691.4 L409.3,694.6 L406.7,694.6 Z" fill="#1a1a1a"/>
<text x="456.4" y="761.2" font-size="10.7" text-anchor="middle">Make up from</text>
<text x="456.4" y="775" font-size="10.7" text-anchor="middle">Yellow Strips</text>
<path d="M466.0,750.4 L432.2,676.5" stroke="#1a1a1a" stroke-width="0.7" fill="none"/><path d="M432.2,676.5 L434.7,678.9 L432.3,680.0 Z" fill="#1a1a1a"/>
<path d="M466.0,750.4 L476.8,728.5" stroke="#1a1a1a" stroke-width="0.7" fill="none"/><path d="M476.8,728.5 L476.6,731.9 L474.2,730.8 Z" fill="#1a1a1a"/>
<path d="M488.0,760.6 L536.5,723.0" stroke="#1a1a1a" stroke-width="0.7" fill="none"/><path d="M536.5,723.0 L534.8,726.0 L533.2,723.9 Z" fill="#1a1a1a"/>
<text x="588.7" y="624.2" font-size="10.7" text-anchor="middle">BS381:642</text>
<text x="588.7" y="638.1" font-size="10.7" text-anchor="middle">Matt Black</text>
<path d="M590.0,641.9 L577.6,660.6" stroke="#b0393a" stroke-width="0.8" fill="none"/>
<text x="590" y="736.7" font-size="10.7" text-anchor="middle">1 or 7</text>
<path d="M590.0,726.0 L590.0,699.5" stroke="#1a1a1a" stroke-width="0.7" fill="none"/><path d="M590.0,699.5 L591.3,702.7 L588.7,702.7 Z" fill="#1a1a1a"/>
<text x="678.7" y="664.6" font-size="10.7" text-anchor="middle">Inside Face of</text>
<text x="678.7" y="677" font-size="10.7" text-anchor="middle">Right Tailfin</text>
<text x="749.7" y="664.6" font-size="10.7" text-anchor="middle">Inside Face of</text>
<text x="749.7" y="677" font-size="10.7" text-anchor="middle">Left Tailfin</text>
<text x="689" y="694.6" font-size="10.7" text-anchor="middle">4L</text>
<text x="739.6" y="694.6" font-size="10.7" text-anchor="middle">4R</text>
<g transform="translate(0,423)"><use href="#sfin"/><use href="#sfin" transform="translate(1428,0) scale(-1,1)"/></g>
<path d="M689.0,697.0 L689.0,731.5" stroke="#1a1a1a" stroke-width="0.7" fill="none"/><path d="M689.0,731.5 L687.7,728.3 L690.3,728.3 Z" fill="#1a1a1a"/>
<path d="M739.6,697.0 L739.6,729.5" stroke="#1a1a1a" stroke-width="0.7" fill="none"/><path d="M739.6,729.5 L738.3,726.3 L740.9,726.3 Z" fill="#1a1a1a"/>
<text x="16" y="848.8" font-size="15.5">Avro Shackleton AEW.2</text>
<text x="16" y="867.2" font-size="15.5">WL747, ‘47/8’</text>
<text x="16" y="885.6" font-size="15.5">‘Florence’ of 8 Squadron,</text>
<text x="16" y="904.0" font-size="15.5">Royal Air Force,</text>
<text x="16" y="922.4" font-size="15.5">RAF Kinloss,</text>
<text x="16" y="940.8" font-size="15.5">1979.</text>
<text x="583" y="875.2" font-size="9.4" class="s" style="fill:#e6e8ea" font-weight="bold" textLength="73.6" lengthAdjust="spacingAndGlyphs">ROYAL AIR FORCE</text>
<path d="M621,880.3 h7 M630,880.6999999999999 h6" stroke="#b9403a" stroke-width="1" opacity="0.75"/>
<circle cx="214.2" cy="880.8" r="7" fill="#fff" stroke="#c9d6df" stroke-width="0.8"/><text x="214.39999999999998" y="884.0999999999999" font-size="9.6" text-anchor="middle" class="s" style="fill:#111">J</text>
<text x="673.5" y="837.6" font-size="18.5" text-anchor="middle" class="s" style="fill:#cc564a" stroke="#f3ddd8" stroke-width="2.2" paint-order="stroke" stroke-linejoin="round" font-style="italic" textLength="20" lengthAdjust="spacingAndGlyphs">47</text>
<text x="196.4" y="821.2" font-size="10.7" text-anchor="middle">BS381:642</text>
<text x="196.4" y="834" font-size="10.7" text-anchor="middle">Matt Black</text>
<path d="M199.0,837.4 L210.8,857.0" stroke="#b0393a" stroke-width="0.8" fill="none"/>
<text x="266.4" y="828" font-size="10.7" text-anchor="middle">34</text>
<path d="M266.4,831.0 L266.4,869.5" stroke="#1a1a1a" stroke-width="0.7" fill="none"/><path d="M266.4,869.5 L265.1,866.3 L267.7,866.3 Z" fill="#1a1a1a"/>
<path d="M264.6,871.4 h5.8 l-0.6,4 h-4.6 Z M265.4,876.4 h4.4 l0.8,4.6 h-6 Z" fill="#eddad6"/><path d="M265,873.4 h5 M266,878.4 h3.4" stroke="#c9564f" stroke-width="0.9"/>
<text x="339.5" y="795.9" font-size="10.7" text-anchor="middle">BS381C:638</text>
<text x="339.5" y="807.7" font-size="10.7" text-anchor="middle">Dark Sea Grey</text>
<path d="M340.0,812.0 L340.0,861.0" stroke="#b0393a" stroke-width="0.8" fill="none"/>
<text x="397.4" y="828" font-size="10.7" text-anchor="middle">6</text>
<path d="M397.4,831.0 L397.4,861.0" stroke="#1a1a1a" stroke-width="0.7" fill="none"/><path d="M397.4,861.0 L396.1,857.8 L398.7,857.8 Z" fill="#1a1a1a"/>
<text x="216.5" y="933.6" font-size="10.7" text-anchor="middle">1 or 7</text>
<path d="M216.3,923.4 L216.3,889.7" stroke="#1a1a1a" stroke-width="0.7" fill="none"/><path d="M216.3,889.7 L217.6,892.9 L215.0,892.9 Z" fill="#1a1a1a"/>
<text x="396.4" y="945.4" font-size="10.7" text-anchor="middle">69 &amp; 59</text>
<path d="M396.6,936.0 L396.6,887.3" stroke="#1a1a1a" stroke-width="0.7" fill="none"/><path d="M396.6,887.3 L397.9,890.5 L395.3,890.5 Z" fill="#1a1a1a"/>
<text x="348.6" y="957.9" font-size="10.7" text-anchor="middle">Make up from</text>
<text x="348.6" y="970.7" font-size="10.7" text-anchor="middle">Yellow Strips</text>
<path d="M316.0,956.2 L270.5,920.0" stroke="#1a1a1a" stroke-width="0.7" fill="none"/><path d="M270.5,920.0 L273.8,921.0 L272.2,923.0 Z" fill="#1a1a1a"/>
<path d="M336.6,946.0 L327.9,926.8" stroke="#1a1a1a" stroke-width="0.7" fill="none"/><path d="M327.9,926.8 L330.4,929.2 L328.0,930.3 Z" fill="#1a1a1a"/>
<path d="M336.6,946.0 L371.0,871.8" stroke="#1a1a1a" stroke-width="0.7" fill="none"/><path d="M371.0,871.8 L370.8,875.2 L368.5,874.2 Z" fill="#1a1a1a"/>
<text x="511.4" y="794.2" font-size="10.7" text-anchor="middle">BS381C:638</text>
<text x="511.4" y="807" font-size="10.7" text-anchor="middle">Dark Sea Grey</text>
<path d="M513.0,811.0 L513.0,857.0" stroke="#b0393a" stroke-width="0.8" fill="none"/>
<text x="465.8" y="817.8" font-size="10.7" text-anchor="middle">3</text>
<path d="M465.8,821.0 L465.8,854.0" stroke="#1a1a1a" stroke-width="0.7" fill="none"/><path d="M465.8,854.0 L464.5,850.8 L467.1,850.8 Z" fill="#1a1a1a"/>
<text x="627.3" y="828.3" font-size="10.7" text-anchor="middle">44 or 45</text>
<path d="M627.3,831.0 L627.3,862.7" stroke="#1a1a1a" stroke-width="0.7" fill="none"/><path d="M627.3,862.7 L626.0,859.5 L628.6,859.5 Z" fill="#1a1a1a"/>
<text x="630" y="921.3" font-size="10.7" text-anchor="middle">22</text>
<path d="M630.0,911.6 L630.0,883.0" stroke="#1a1a1a" stroke-width="0.7" fill="none"/><path d="M630.0,883.0 L631.3,886.2 L628.7,886.2 Z" fill="#1a1a1a"/>
<text x="677" y="787.5" font-size="10.7" text-anchor="middle">10</text>
<path d="M677.0,789.0 L677.0,820.5" stroke="#1a1a1a" stroke-width="0.7" fill="none"/><path d="M677.0,820.5 L675.7,817.3 L678.3,817.3 Z" fill="#1a1a1a"/>
<text x="758.8" y="802" font-size="10.7" text-anchor="middle">BS381C:638</text>
<text x="758.8" y="814" font-size="10.7" text-anchor="middle">Dark Sea Grey</text>
<path d="M726.5,811.0 L703.0,825.0" stroke="#b0393a" stroke-width="0.8" fill="none"/>
<text x="668.6" y="913.5" font-size="10.7" text-anchor="middle">4L</text>
<path d="M668.6,903.6 L668.6,857.4" stroke="#1a1a1a" stroke-width="0.7" fill="none"/><path d="M668.6,857.4 L669.9,860.6 L667.3,860.6 Z" fill="#1a1a1a"/>
<text x="616.5" y="936.4" font-size="12.05" text-anchor="middle" class="s" style="fill:#a3222c" font-weight="bold">Modellers Note:</text>
<text x="616.5" y="952.5" font-size="12.45" text-anchor="middle" class="s" style="fill:#a3222c">WL747 was originally named ‘Florence’ from ‘The Magic</text>
<text x="616.5" y="967.2" font-size="12.45" text-anchor="middle" class="s" style="fill:#a3222c">Roundabout’ childrens television programme. The ‘Florence’</text>
<text x="616.5" y="981.9" font-size="12.45" text-anchor="middle" class="s" style="fill:#a3222c">noseart survived up to 1982 and afterwards carried the name</text>
<text x="616.5" y="996.6" font-size="12.45" text-anchor="middle" class="s" style="fill:#a3222c">‘Florence’ under the cockpit sides till retirement of the type in</text>
<text x="616.5" y="1011.3" font-size="12.45" text-anchor="middle" class="s" style="fill:#a3222c">1991.</text>
<text x="144.8" y="1070.3" font-size="9.4" class="s" style="fill:#e6e8ea" font-weight="bold" textLength="73.6" lengthAdjust="spacingAndGlyphs">ROYAL AIR FORCE</text>
<path d="M163,1075.4 h7 M172,1075.8000000000002 h6" stroke="#b9403a" stroke-width="1" opacity="0.75"/>
<circle cx="588.1" cy="1076.7" r="7" fill="#fff" stroke="#c9d6df" stroke-width="0.8"/><text x="588.3000000000001" y="1080.0" font-size="9.6" text-anchor="middle" class="s" style="fill:#111">J</text>
<text x="129" y="1033.4" font-size="18.5" text-anchor="middle" class="s" style="fill:#cc564a" stroke="#f3ddd8" stroke-width="2.2" paint-order="stroke" stroke-linejoin="round" font-style="italic" textLength="20" lengthAdjust="spacingAndGlyphs">47</text>
<text x="59.4" y="988.6" font-size="10.7" text-anchor="middle">BS381C:638</text>
<text x="59.4" y="1001" font-size="10.7" text-anchor="middle">Dark Sea Grey</text>
<path d="M73.6,1003.7 L96.2,1027.4" stroke="#b0393a" stroke-width="0.8" fill="none"/>
<text x="130" y="983.5" font-size="10.7" text-anchor="middle">10</text>
<path d="M130.0,985.0 L130.0,1017.0" stroke="#1a1a1a" stroke-width="0.7" fill="none"/><path d="M130.0,1017.0 L128.7,1013.8 L131.3,1013.8 Z" fill="#1a1a1a"/>
<text x="127.6" y="1110" font-size="10.7" text-anchor="middle">4R</text>
<path d="M127.6,1101.0 L127.6,1052.7" stroke="#1a1a1a" stroke-width="0.7" fill="none"/><path d="M127.6,1052.7 L128.9,1055.9 L126.3,1055.9 Z" fill="#1a1a1a"/>
<text x="175.5" y="1023.3" font-size="10.7" text-anchor="middle">44 or 45</text>
<path d="M175.5,1026.5 L175.5,1058.4" stroke="#1a1a1a" stroke-width="0.7" fill="none"/><path d="M175.5,1058.4 L174.2,1055.2 L176.8,1055.2 Z" fill="#1a1a1a"/>
<text x="174.5" y="1117.5" font-size="10.7" text-anchor="middle">22</text>
<path d="M174.5,1107.7 L174.5,1078.7" stroke="#1a1a1a" stroke-width="0.7" fill="none"/><path d="M174.5,1078.7 L175.8,1081.9 L173.2,1081.9 Z" fill="#1a1a1a"/>
<text x="244" y="988.6" font-size="10.7" text-anchor="middle">BS381C:638</text>
<text x="244" y="1001" font-size="10.7" text-anchor="middle">Dark Sea Grey</text>
<path d="M244.0,1004.5 L244.0,1045.0" stroke="#b0393a" stroke-width="0.8" fill="none"/>
<text x="338.4" y="1014.9" font-size="10.7" text-anchor="middle">3</text>
<path d="M338.4,1018.0 L338.4,1052.0" stroke="#1a1a1a" stroke-width="0.7" fill="none"/><path d="M338.4,1052.0 L337.1,1048.8 L339.7,1048.8 Z" fill="#1a1a1a"/>
<text x="406.3" y="1023.3" font-size="10.7" text-anchor="middle">6</text>
<path d="M406.3,1026.0 L406.3,1061.0" stroke="#1a1a1a" stroke-width="0.7" fill="none"/><path d="M406.3,1061.0 L405.0,1057.8 L407.6,1057.8 Z" fill="#1a1a1a"/>
<text x="474" y="1013.2" font-size="10.7" text-anchor="middle">BS381C:638</text>
<text x="474" y="1025.7" font-size="10.7" text-anchor="middle">Dark Sea Grey</text>
<path d="M475.4,1030.0 L475.4,1052.7" stroke="#b0393a" stroke-width="0.8" fill="none"/>
<text x="407.6" y="1140.4" font-size="10.7" text-anchor="middle">69 &amp; 59</text>
<path d="M407.8,1130.3 L407.8,1083.0" stroke="#1a1a1a" stroke-width="0.7" fill="none"/><path d="M407.8,1083.0 L409.1,1086.2 L406.5,1086.2 Z" fill="#1a1a1a"/>
<text x="455.2" y="1152.2" font-size="10.7" text-anchor="middle">Make up from</text>
<text x="455.2" y="1166.4" font-size="10.7" text-anchor="middle">Yellow Strips</text>
<path d="M466.0,1142.0 L434.0,1068.0" stroke="#1a1a1a" stroke-width="0.7" fill="none"/><path d="M434.0,1068.0 L436.5,1070.4 L434.1,1071.5 Z" fill="#1a1a1a"/>
<path d="M466.0,1142.0 L476.8,1120.2" stroke="#1a1a1a" stroke-width="0.7" fill="none"/><path d="M476.8,1120.2 L476.5,1123.6 L474.2,1122.5 Z" fill="#1a1a1a"/>
<path d="M486.0,1151.5 L536.5,1113.5" stroke="#1a1a1a" stroke-width="0.7" fill="none"/><path d="M536.5,1113.5 L534.7,1116.5 L533.2,1114.4 Z" fill="#1a1a1a"/>
<text x="584.7" y="1026.9" font-size="10.7" text-anchor="middle">BS381:642</text>
<text x="584.7" y="1040" font-size="10.7" text-anchor="middle">Matt Black</text>
<path d="M583.2,1043.7 L576.9,1053.0" stroke="#b0393a" stroke-width="0.8" fill="none"/>
<text x="588.9" y="1128" font-size="10.7" text-anchor="middle">1 or 7</text>
<path d="M588.9,1118.7 L588.9,1085.0" stroke="#1a1a1a" stroke-width="0.7" fill="none"/><path d="M588.9,1085.0 L590.2,1088.2 L587.6,1088.2 Z" fill="#1a1a1a"/>
<text x="678.7" y="1030.0" font-size="10.7" text-anchor="middle">Inside Face of</text>
<text x="678.7" y="1042.4" font-size="10.7" text-anchor="middle">Right Tailfin</text>
<text x="749.7" y="1030.0" font-size="10.7" text-anchor="middle">Inside Face of</text>
<text x="749.7" y="1042.4" font-size="10.7" text-anchor="middle">Left Tailfin</text>
<text x="689" y="1060.0" font-size="10.7" text-anchor="middle">4L</text>
<text x="739.6" y="1060.0" font-size="10.7" text-anchor="middle">4R</text>
<g transform="translate(0,788.4)"><use href="#sfin"/><use href="#sfin" transform="translate(1428,0) scale(-1,1)"/></g>
<path d="M689.0,1062.4 L689.0,1096.9" stroke="#1a1a1a" stroke-width="0.7" fill="none"/><path d="M689.0,1096.9 L687.7,1093.7 L690.3,1093.7 Z" fill="#1a1a1a"/>
<path d="M739.6,1062.4 L739.6,1094.9" stroke="#1a1a1a" stroke-width="0.7" fill="none"/><path d="M739.6,1094.9 L738.3,1091.7 L740.9,1091.7 Z" fill="#1a1a1a"/>
<path d="M28.5,1122.2 L30.7,1120 L50.2,1120 L53.2,1115.5 L58.5,1112.5 L60,1111 L83.2,1111 L84,1117 C83,1123 81,1128 81,1132 C82,1138 86.5,1141 86.2,1145.5 C85,1150 81,1152 78,1153 C74,1155 72,1158 70.5,1160.5 C69,1164 68,1167 66,1168.7 L51,1168.7 C48,1166 47,1163 45,1160.5 L40.5,1160.5 L40.5,1156.7 L36,1153.7 C37,1149 38.5,1145 38.2,1141.7 C35,1138.5 32,1136 30,1133.5 C28,1131 27.5,1129 27.7,1127.5 Z" fill="#565d60"/>
<path d="M28.6,1122.4 L30.7,1120 L50.4,1120 L52,1123 C44,1122.6 36,1122.6 28.6,1124 Z" fill="#1f2123"/>
<path d="M52,1123.4 H80 V1115 H59.5 L53.2,1115.5 Z" fill="#1f2224"/>
<rect x="60" y="1116" width="6" height="7" fill="#e6e9eb"/><rect x="68.7" y="1116" width="10" height="7" fill="#e6e9eb"/>
<path d="M53.5,1116.2 L58.6,1116.2 L58.6,1123 L56,1123 Z" fill="#dfe3e6"/>
<g stroke="#23272a" stroke-width="0.6" fill="none"><path d="M50,1123 V1160 M30,1128 C45,1126 65,1126.5 83,1127 M60,1138 C66,1133 74,1131 80,1131 M60,1138 C66,1141 72,1142 78,1142 M74,1131 V1152 M64,1134 C68,1136 68,1139 64,1141"/></g>
<path d="M81,1105.7 V1111" stroke="#222" stroke-width="0.9"/><path d="M72,1111.8 L79,1114.6" stroke="#b9a878" stroke-width="0.8"/>
<rect x="43.5" y="1145.4" width="9" height="3.4" fill="#dc8f8a"/>
<rect x="51.8" y="1145.4" width="1.5" height="23" fill="#b3a885"/>
<text x="20" y="1149.2" font-size="10.7" text-anchor="middle">51</text>
<path d="M26.2,1145.5 L51.7,1128.2" stroke="#1a1a1a" stroke-width="0.7" fill="none"/>
<text x="186" y="1139.6" font-size="12.3" text-anchor="middle" class="s" style="fill:#a3222c" font-weight="bold">Modellers Note:</text>
<text x="186" y="1154.8" font-size="12.4" text-anchor="middle" class="s" style="fill:#a3222c">Decal 49 may have been applied</text>
<text x="186" y="1169.8" font-size="12.5" text-anchor="middle" class="s" style="fill:#a3222c">to both sides in the same position.</text>
</svg>
</body></html>
